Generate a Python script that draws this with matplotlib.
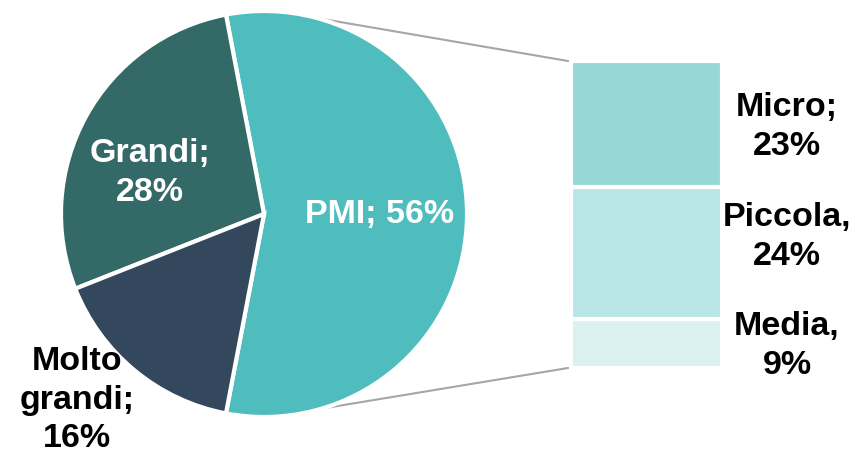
import matplotlib.pyplot as plt
import numpy as np

plt.rcParams['font.family'] = ['Liberation Sans', 'DejaVu Sans']
plt.rcParams['font.weight'] = 'bold'

# main split
pie_labels = ['PMI; 56%', 'Grandi;\n28%', 'Molto\ngrandi;\n16%']
pie_values = [56, 28, 16]
pie_colors = ['#4FBDBE', '#336966', '#33485C']

# PMI breakdown (top to bottom)
bar_labels = ['Micro;\n23%', 'Piccola,\n24%', 'Media,\n9%']
bar_values = [23, 24, 9]
bar_colors = ['#95D8D6', '#B8E5E5', '#DBF0F1']

W, H = 855, 459
fig = plt.figure(figsize=(W / 100, H / 100), dpi=100)
ax = fig.add_axes([0, 0, 1, 1])

cx, cy, r = 264, 245, 203
half = 360 * pie_values[0] / 100 / 2
ax.pie(pie_values, colors=pie_colors, startangle=-half, counterclock=True,
       center=(cx, cy), radius=r, frame=True,
       wedgeprops=dict(edgecolor='white', linewidth=3))
ax.set_xlim(0, W)
ax.set_ylim(0, H)
ax.set_aspect('equal')
ax.axis('off')

# stacked column for the PMI share
bx, bw, b0, btot = 646.5, 151, 91, 307
scale = btot / sum(bar_values)
bottom = b0
for val, col in zip(bar_values[::-1], bar_colors[::-1]):
    ax.bar(bx, val * scale, width=bw, bottom=bottom, color=col,
           edgecolor='white', linewidth=3)
    bottom += val * scale

# connector lines
for ang, yb in [(74.8, b0 + btot), (-73.5, b0)]:
    a = np.deg2rad(ang)
    ax.plot([cx + r * np.cos(a), bx - bw / 2 - 3], [cy + r * np.sin(a), yb],
            color='#A6A6A6', linewidth=1.5, zorder=0)

fs = 24.5
ls = 1.32
ax.text(380, H - 215, pie_labels[0], color='white', fontsize=fs,
        ha='center', va='center', linespacing=ls)
ax.text(150, H - 173, pie_labels[1], color='white', fontsize=fs,
        ha='center', va='center', linespacing=ls)
ax.text(77, H - 400, pie_labels[2], color='black', fontsize=fs,
        ha='center', va='center', linespacing=ls)

for lab, y in zip(bar_labels, [127, 237, 346]):
    ax.text(787, H - y, lab, color='black', fontsize=fs,
            ha='center', va='center', linespacing=ls)

fig.savefig('out.png', dpi=100)
